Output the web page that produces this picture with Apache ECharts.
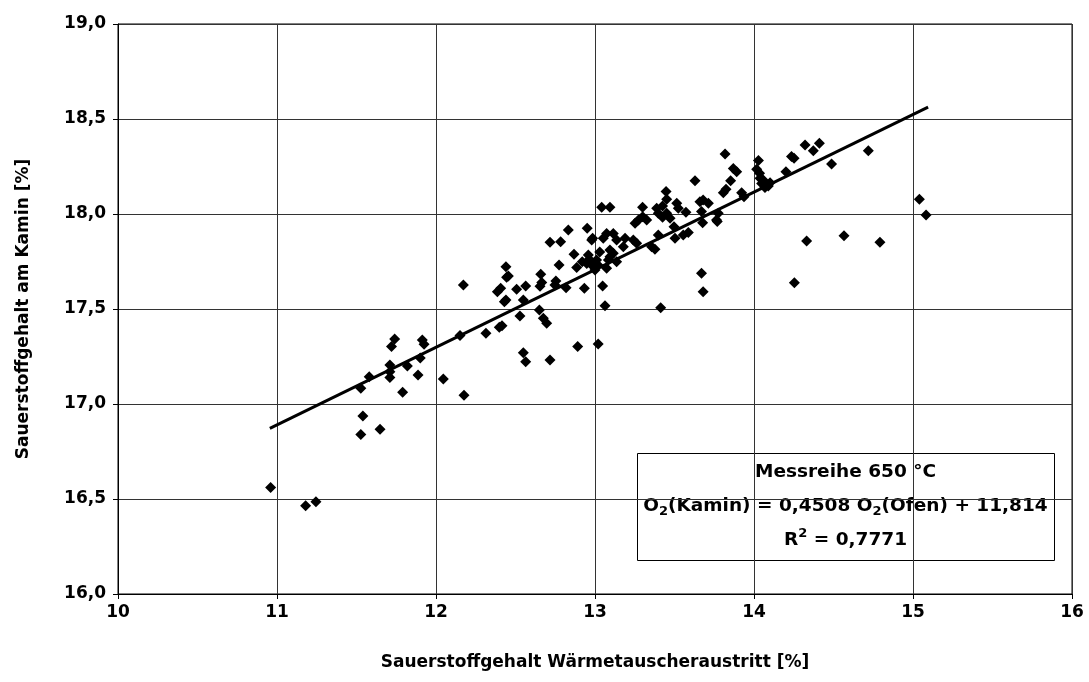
<!DOCTYPE html>
<html><head><meta charset="utf-8">
<script src="https://cdn.jsdelivr.net/npm/echarts@6/dist/echarts.min.js"></script>
<style>html,body{margin:0;padding:0;background:#fff}#c{width:1089px;height:682px}</style>
</head><body><div id="c"></div>
<script>
const xTicks = [10, 11, 12, 13, 14, 15, 16];
const yTicks = ['16,0','16,5','17,0','17,5','18,0','18,5','19,0'];
const xAxisName = 'Sauerstoffgehalt Wärmetauscheraustritt [%]';
const yAxisName = 'Sauerstoffgehalt am Kamin [%]';
const measured = [
[10.96,16.56],[11.18,16.465],[11.245,16.486],
[11.527,16.84],[11.54,16.937],[11.648,16.867],[11.527,17.083],[11.58,17.144],
[11.71,17.14],[11.71,17.17],[11.71,17.205],[11.72,17.302],[11.74,17.342],
[11.79,17.062],[11.82,17.2],[11.887,17.153],[11.901,17.242],[11.914,17.337],[11.925,17.314],
[12.046,17.132],[12.151,17.36],[12.172,17.626],[12.176,17.046],[12.314,17.372],
[12.398,17.404],[12.415,17.412],[12.528,17.463],[12.549,17.547],[12.43,17.538],[12.44,17.547],
[12.386,17.591],[12.407,17.609],[12.444,17.667],[12.455,17.674],[12.44,17.723],[12.507,17.604],[12.564,17.621],
[12.65,17.495],[12.675,17.451],[12.696,17.425],[12.549,17.27],[12.564,17.223],[12.717,17.232],[12.891,17.302],[13.02,17.316],
[12.659,17.683],[12.665,17.64],[12.654,17.62],[12.754,17.647],[12.748,17.626],[12.774,17.732],[12.818,17.612],
[12.717,17.851],[12.784,17.854],[12.832,17.916],[12.951,17.925],[12.979,17.863],[12.868,17.788],[12.885,17.719],[12.933,17.609],
[12.948,17.74],[12.964,17.762],[12.92,17.749],[12.958,17.784],[12.99,17.723],[13.0,17.705],
[12.985,17.872],[13.01,17.758],[13.03,17.8],[13.0,17.74],[13.02,17.73],
[13.042,18.035],[13.094,18.035],[13.299,18.035],[13.388,18.03],[13.425,18.042],[13.447,18.118],[13.451,18.077],
[13.514,18.056],[13.524,18.03],[13.572,18.009],[13.629,18.175],[13.66,18.065],[13.68,18.074],[13.713,18.056],[13.67,18.013],[13.677,17.954],[13.764,17.968],
[13.273,17.968],[13.3,17.986],[13.325,17.968],[13.252,17.951],
[13.398,18.004],[13.425,17.983],[13.451,18.004],[13.472,17.977],[13.497,17.933],[13.503,17.872],[13.555,17.889],[13.587,17.902],[13.398,17.889],
[13.356,17.828],[13.377,17.814],[13.262,17.846],[13.189,17.872],[13.241,17.863],[13.178,17.828],
[13.136,17.863],[13.115,17.898],[13.073,17.898],[13.052,17.872],[13.094,17.811],[13.115,17.793],[13.136,17.749],[13.073,17.714],
[13.084,17.758],[13.094,17.775],
[13.048,17.621],[13.063,17.517],[13.413,17.507],[13.67,17.688],[13.68,17.591],
[13.818,18.316],[13.87,18.24],[13.891,18.223],[13.853,18.175],[13.824,18.13],[13.807,18.112],[13.922,18.112],[13.937,18.091],[13.775,18.004],[13.769,17.96],
[14.028,18.281],[14.017,18.235],[14.035,18.214],[14.038,18.188],[14.048,18.161],[14.069,18.14],[14.101,18.165],[14.09,18.147],[14.058,18.179],
[14.201,18.223],[14.236,18.302],[14.252,18.293],[14.321,18.363],[14.373,18.333],[14.411,18.372],[14.488,18.263],[14.719,18.333],
[15.04,18.077],[15.082,17.995],[14.331,17.858],[14.566,17.886],[14.792,17.851],[14.254,17.638]
];
const trendLine = [[10.955,16.872],[15.095,18.563]];
const boxTitle = 'Messreihe 650 °C';
const boxEquation = ['O','2','(Kamin) = 0,4508 O','2','(Ofen) + 11,814'];
const boxR2 = ['R','2',' = 0,7771'];

const FONT = '"DejaVu Sans", "Liberation Sans", Arial, sans-serif';
const chart = echarts.init(document.getElementById('c'));
chart.setOption({
  animation: false,
  backgroundColor: '#fff',
  grid: { left: 118, right: 17, top: 24, bottom: 88, show: true, borderColor: '#000', borderWidth: 1, backgroundColor: 'transparent' },
  xAxis: {
    type: 'value', min: 10, max: 16, interval: 1,
    name: xAxisName, nameLocation: 'middle', nameGap: 60,
    nameTextStyle: { fontFamily: FONT, fontWeight: 'bold', fontSize: 17, color: '#000' },
    axisLine: { show: true, lineStyle: { color: '#000', width: 1 } },
    axisTick: { show: true, inside: false, length: 5, lineStyle: { color: '#000' } },
    axisLabel: { margin: 10, fontFamily: FONT, fontWeight: 'bold', fontSize: 17, color: '#000',
      formatter: v => String(xTicks[Math.round(v - 10)]) },
    splitLine: { show: true, lineStyle: { color: '#333', width: 1 } }
  },
  yAxis: {
    type: 'value', min: 16, max: 19, interval: 0.5,
    name: yAxisName, nameLocation: 'middle', nameGap: 86, nameRotate: 90,
    nameTextStyle: { fontFamily: FONT, fontWeight: 'bold', fontSize: 17, color: '#000' },
    axisLine: { show: true, lineStyle: { color: '#000', width: 1 } },
    axisTick: { show: true, inside: false, length: 5, lineStyle: { color: '#000' } },
    axisLabel: { margin: 12, fontFamily: FONT, fontWeight: 'bold', fontSize: 17, color: '#000',
      formatter: v => yTicks[Math.round((v - 16) * 2)] },
    splitLine: { show: true, lineStyle: { color: '#333', width: 1 } }
  },
  series: [
    { type: 'scatter', data: measured, symbol: 'diamond', symbolSize: 11,
      itemStyle: { color: '#000', opacity: 1 }, z: 3 },
    { type: 'line', data: trendLine, showSymbol: false, symbol: 'none',
      lineStyle: { color: '#000', width: 3 }, z: 4 }
  ],
  graphic: [{
    type: 'group', left: 637, top: 453, z: 100,
    children: [
      { type: 'rect', shape: { x: 0, y: 0, width: 417, height: 107 },
        style: { fill: '#fff', stroke: '#000', lineWidth: 1 } },
      { type: 'text', x: 208, y: 53,
        style: {
          text: '{m|' + boxTitle + '}\n' +
                '{m|' + boxEquation[0] + '}{s|' + boxEquation[1] + '}{m|' + boxEquation[2] + '}{s|' + boxEquation[3] + '}{m|' + boxEquation[4] + '}\n' +
                '{m|' + boxR2[0] + '}{p|' + boxR2[1] + '}{m|' + boxR2[2] + '}',
          align: 'center', verticalAlign: 'middle',
          rich: {
            m: { fontFamily: FONT, fontWeight: 'bold', fontSize: 18.5, color: '#000', lineHeight: 34 },
            s: { fontFamily: FONT, fontWeight: 'bold', fontSize: 13, color: '#000', lineHeight: 34, verticalAlign: 'bottom', padding: [0, 0, 5, 0] },
            p: { fontFamily: FONT, fontWeight: 'bold', fontSize: 13, color: '#000', lineHeight: 34, verticalAlign: 'top', padding: [4, 0, 0, 0] }
          }
        } }
    ]
  }]
});
</script></body></html>
